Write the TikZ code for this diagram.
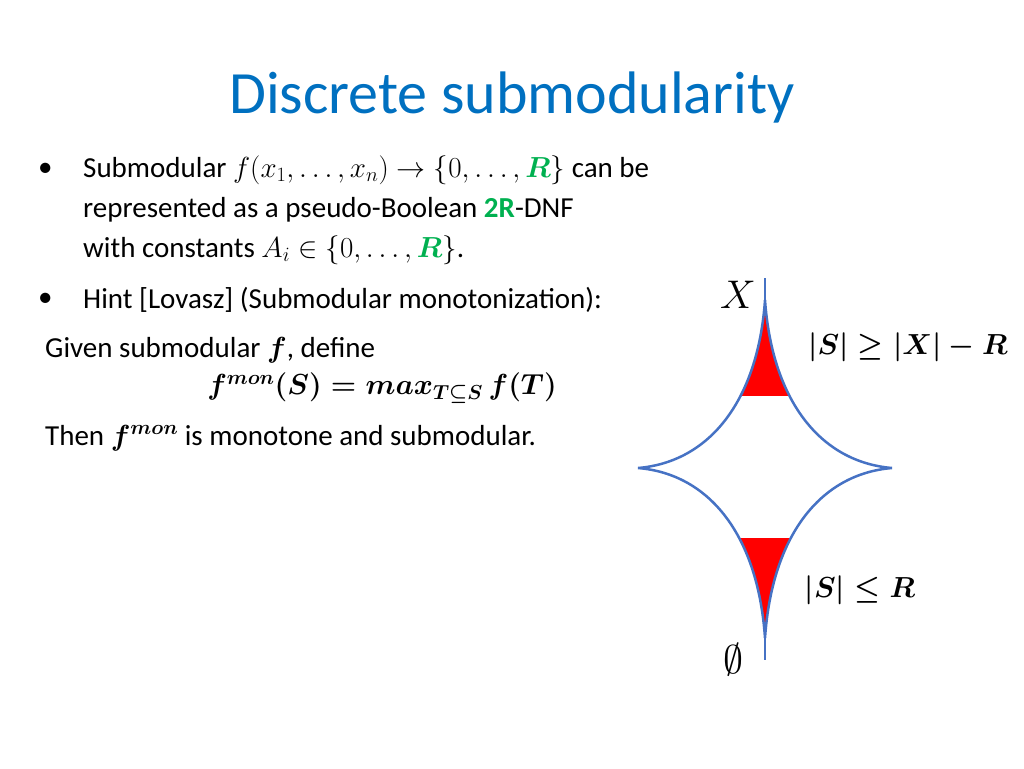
\documentclass[tikz,border=0pt]{standalone}
\usepackage{fix-cm}
\usepackage{amsmath}
\usepackage{amssymb}
\usepackage{fontspec}
\setmainfont{Carlito}
\usetikzlibrary{positioning}
\definecolor{myblue}{RGB}{0,112,192}
\definecolor{mygreen}{RGB}{0,176,80}
\definecolor{myedge}{RGB}{70,114,196}
\newcommand{\gR}{\textcolor{mygreen}{\boldsymbol{R}}}
\newcommand{\starpath}{(765,300)
  .. controls (758,400) and (710,462) .. (638,468)
  .. controls (710,474) and (758,536) .. (765,638)
  .. controls (772,536) and (820,474) .. (892,468)
  .. controls (820,462) and (772,400) .. (765,300) -- cycle}
\begin{document}
\begin{tikzpicture}[x=1pt,y=-1pt,
  txt/.style={anchor=west,inner sep=0pt,font=\fontsize{29}{34}\selectfont},
  lbl/.style={inner sep=0pt,font=\fontsize{29}{34}\selectfont},
]
\useasboundingbox (0,0) rectangle (1024,768);
% title
\node[myblue,font=\fontsize{60}{70}\selectfont] (title) at (512,98) {Discrete submodularity};
% the text
\node[txt] (b1) at (38,170) {•};
\node[txt] (l1) at (83,170) {Submodular $f(x_1,\dots,x_n)\to\{0,\dots,\gR\}$ can be};
\node[txt] (l2) at (83,210) {represented as a pseudo-Boolean \textbf{\textcolor{mygreen}{2R}}-DNF};
\node[txt] (l3) at (83,250) {with constants $A_i\in\{0,\dots,\gR\}$.};
\node[txt] (b2) at (38,300) {•};
\node[txt] (l4) at (83,300) {Hint [Lovasz] (Submodular monotonization):};
\node[txt] (l5) at (45,350) {Given submodular $\boldsymbol{f}$, define};
\node[lbl] (l6) at (382,388) {$\boldsymbol{f^{mon}(S)=max_{T\subseteq S}\,f(T)}$};
\node[txt] (l7) at (45,438) {Then $\boldsymbol{f^{mon}}$ is monotone and submodular.};
% the red caps
\begin{scope}
  \clip (600,290) rectangle (940,395);
  \fill[red] \starpath;
\end{scope}
\begin{scope}
  \clip (600,538) rectangle (940,650);
  \fill[red] \starpath;
\end{scope}
% the lattice shape
\draw[myedge,line width=2.5pt] \starpath;
\draw[myedge,line width=2.5pt] (765,278) -- (765,300);
\draw[myedge,line width=2.5pt] (765,638) -- (765,660);
% labels
\node[lbl,font=\fontsize{40}{46}\selectfont] (xl) at (738,295) {$X$};
\node[lbl] (upper) at (908,347) {$\boldsymbol{|S|\geq|X|-R}$};
\node[lbl] (lower) at (860,590) {$\boldsymbol{|S|\leq R}$};
\node[lbl,font=\fontsize{40}{46}\selectfont] (empty) at (733,660) {$\emptyset$};
\end{tikzpicture}
\end{document}
